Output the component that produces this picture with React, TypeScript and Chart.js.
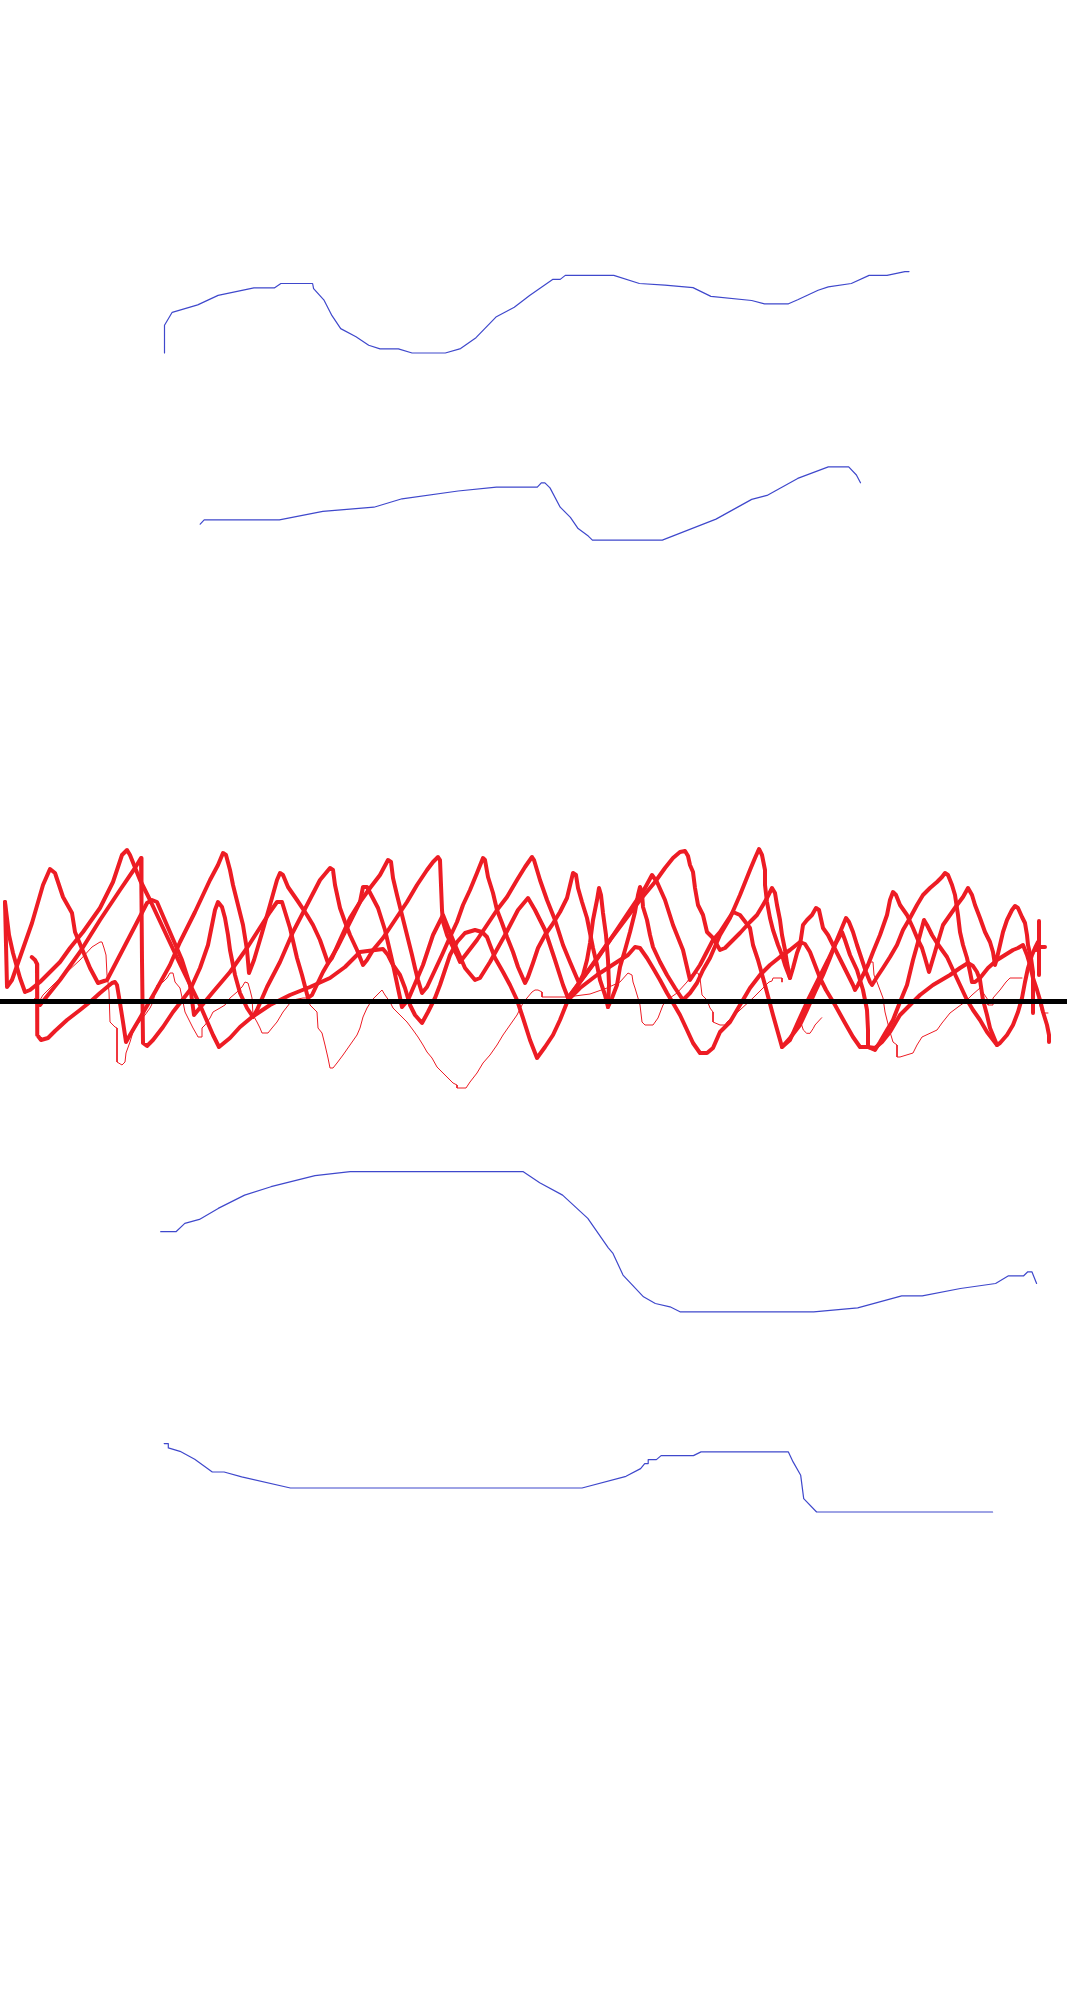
import React, { useEffect, useRef } from "react";
import { Chart, registerables } from "chart.js";

Chart.register(...registerables);

type Pt = [number, number];

// Blue traces (upper and lower)
const blueTop1: Pt[] = [[164.5,353],[164.5,325.2],[172.2,312.3],[197.7,304.9],[218.1,295.4],[253.9,287.9],[274.3,287.9],[280.9,283.5],[312.6,283.5],[313.6,288.6],[323.8,299.8],[332,315.7],[340.7,328.6],[356,336.7],[368.7,345.2],[380,348.9],[398.4,348.9],[412.1,353],[445.3,353],[460.6,348.6],[476,337.7],[496.4,316.7],[514.3,307.2],[529.6,295.4],[552.6,279.4],[560.2,279.4],[565.3,275.4],[613.8,275.4],[639.4,283.5],[664.9,285.2],[693,287.6],[710.9,296.4],[751.7,300.5],[764.5,303.8],[788.5,303.8],[797.7,299.8],[818.1,290.3],[828.3,286.9],[851.3,283.5],[869.1,275.4],[887,275.4],[904.9,271.6],[909,271.6]];
const blueTop2: Pt[] = [[200.2,524.2],[204.2,519.8],[279.4,519.8],[322.8,511.3],[373.9,507.2],[402,498.8],[458.1,491],[496.4,487.2],[537.3,487.2],[541.3,482.8],[544.9,482.8],[550,487.9],[560.2,507.2],[570.4,517.4],[578.1,528.6],[588.3,536.1],[592.4,540.1],[662.3,540.1],[716,519.1],[751.7,499.4],[767,495.4],[797.7,478.4],[828.3,466.9],[848.7,466.9],[856.4,475],[860.5,482.8]];
const blueBottom1: Pt[] = [[160.7,1231.7],[176,1231.7],[184.8,1223.4],[199.4,1219.4],[218.2,1208.4],[244.6,1195.1],[271,1186.7],[315,1175.7],[350.2,1171.7],[523.3,1171.7],[539.7,1182.7],[562.6,1195.1],[587.8,1218.4],[608.3,1247.8],[613,1253.4],[623,1275.1],[643.5,1296.8],[655.3,1303.5],[670,1306.8],[680,1311.8],[813.7,1311.8],[857.7,1307.8],[901.7,1295.8],[922.3,1295.8],[960.4,1288.5],[995.6,1283.5],[1008.5,1275.8],[1023.7,1275.8],[1027.8,1271.8],[1031.9,1271.8],[1036.6,1283.5]];
const blueBottom2: Pt[] = [[164.2,1443.6],[168.3,1443.6],[168.3,1447.9],[180,1451.3],[194.7,1459.3],[212.3,1472],[224.1,1472],[241.7,1476.9],[290.4,1488],[582,1488],[626,1476.3],[640.6,1468.6],[644.7,1463.6],[648.2,1463.6],[648.2,1459.6],[656.4,1459.6],[661.1,1455.6],[693.4,1455.6],[701,1451.9],[788.4,1451.9],[793.1,1461.9],[800.7,1475.3],[803.7,1498.6],[816.6,1512],[992.6,1512]];

// Thick red traces
const red1: Pt[] = [[5,902],[7,987],[12,980],[32,923],[43,885],[50,869],[55,873],[63,897],[72,913],[75,932],[90,968],[98,983],[107,980],[133,930],[147,903],[152,900],[157,902],[163,916],[182,960],[190,985],[194,1015],[213,992],[230,972],[247,948],[270,912],[277,902],[282,902],[290,928],[297,958],[302,975],[308,998],[312,995],[323,972],[337,948],[350,922],[360,902],[363,887],[367,887],[378,908],[385,930],[392,960],[402,1007],[408,1000],[423,965],[433,935],[443,915],[447,925],[455,945],[465,968],[475,980],[480,978],[490,962],[505,935],[518,910],[528,898],[535,910],[545,930],[555,960],[563,985],[568,998],[590,968],[610,940],[630,910],[645,888],[652,875],[657,882],[665,900],[673,925],[683,950],[690,980],[700,965],[713,940],[720,932],[733,912],[740,915],[750,928],[753,945],[758,960],[765,985],[773,1015],[782,1047],[790,1040],[798,1022],[808,1000],[818,980],[828,960],[836,943],[842,932],[845,940],[850,955],[857,970],[863,990],[867,1010],[868,1030],[868,1047],[875,1050],[880,1042],[887,1030],[893,1020],[900,1002],[907,985],[913,960],[920,935],[924,920],[927,925],[932,935],[937,943],[947,957],[953,970],[960,985],[967,1000],[973,1010],[980,1020],[987,1032],[997,1045],[1000,1043],[1007,1035],[1013,1025],[1018,1012],[1022,998],[1025,982],[1028,968],[1032,955],[1035,948],[1038,942]];
const red2: Pt[] = [[5,902],[9,935],[13,953],[20,978],[25,992],[30,990],[40,982],[50,972],[60,962],[70,948],[83,932],[100,908],[113,882],[122,855],[127,850],[130,855],[140,880],[150,900],[165,932],[180,964],[200,1005],[213,1035],[219,1047],[230,1038],[240,1027],[252,1017],[270,1005],[290,995],[310,987],[330,978],[345,967],[360,952],[383,949],[388,955],[393,965],[400,975],[405,988],[410,1005],[415,1015],[422,1023],[428,1012],[435,998],[440,985],[445,970],[450,955],[457,942],[465,933],[475,930],[482,932],[487,937],[490,945],[495,958],[503,972],[510,985],[517,1000],[523,1018],[530,1040],[537,1058],[545,1047],[553,1035],[560,1020],[568,1000],[580,988],[597,975],[617,962],[628,955],[635,947],[640,948],[647,958],[653,968],[660,980],[667,993],[673,1003],[680,1015],[687,1030],[693,1043],[700,1053],[707,1053],[713,1048],[720,1032],[730,1022],[740,1005],[750,988],[760,975],[770,965],[780,957],[790,950],[800,942],[805,944],[810,952],[815,965],[820,978],[826,990],[835,1005],[845,1023],[853,1037],[860,1047],[868,1047],[875,1048],[882,1042],[890,1032],[900,1015],[910,1005],[920,995],[933,985],[950,975],[960,968],[968,963],[973,966],[977,972],[980,980],[983,1000],[987,1015],[990,1028],[997,1045]];
const red3: Pt[] = [[31.7,957],[35,960],[37,964],[37,1000],[37.5,1035],[41,1040],[48,1038],[55,1031],[67,1020],[80,1010],[90,1002],[100,993],[112,983],[115,982],[117,985],[120,1003],[123,1022],[126,1042],[130,1035],[140,1018],[155,992],[170,965],[180,942],[195,912],[210,880],[218,865],[223,853],[226,855],[230,870],[233,885],[238,905],[243,925],[247,950],[249,973],[254,960],[262,933],[270,905],[277,880],[280,873],[283,875],[288,887],[297,900],[307,915],[313,925],[320,940],[328,963],[332,958],[340,940],[350,918],[360,902],[370,888],[380,875],[388,860],[391,862],[393,878],[397,895],[402,915],[407,935],[412,955],[415,968],[418,980],[422,993],[427,987],[435,970],[442,955],[450,937],[457,922],[463,905],[470,890],[477,873],[483,858],[485,860],[488,877],[493,893],[497,910],[502,923],[507,937],[513,952],[518,967],[525,983],[528,977],[533,963],[538,948],[545,935],[552,925],[560,912],[567,898],[573,873],[576,875],[578,888],[582,902],[587,918],[590,933],[593,948],[597,965],[600,980],[605,995],[608,1007],[612,998],[617,985],[620,967],[625,950],[630,932],[635,912],[638,895],[640,887],[642,893],[643,907],[647,920],[650,935],[653,947],[660,962],[667,975],[675,988],[683,1000],[690,993],[697,983],[703,970],[710,958],[720,935],[730,918],[740,895],[750,870],[755,858],[759,849],[762,855],[765,870],[765,885],[767,902],[770,918],[773,930],[778,945],[782,955],[785,965],[790,978],[793,968],[797,953],[800,945],[803,925],[807,920],[812,915],[816,908],[819,910],[823,928],[828,935],[833,945],[838,955],[843,965],[848,975],[853,985],[855,990],[858,985],[863,975],[868,965],[873,952],[880,935],[887,915],[890,900],[893,892],[896,895],[900,905],[907,915],[913,928],[918,940],[922,948],[925,958],[929,972],[932,962],[935,952],[937,945],[940,935],[943,925],[950,915],[957,905],[963,897],[968,888],[972,895],[975,905],[980,918],[985,932],[990,942],[993,952],[995,965],[997,958],[1000,945],[1003,932],[1007,920],[1012,910],[1015,906],[1018,908],[1022,917],[1025,923],[1027,935],[1028,945],[1031,958],[1033,972],[1033,985],[1033,1013]];
const red4: Pt[] = [[40,1005],[60,980],[80,952],[100,920],[120,890],[135,868],[141,858],[141.5,900],[142,960],[143,1043],[147,1046],[153,1040],[163,1027],[173,1012],[180,1003],[190,990],[200,968],[208,945],[212,925],[215,910],[218,902],[222,907],[225,918],[228,935],[230,950],[235,975],[240,993],[247,1008],[253,1017],[257,1010],[267,987],[280,962],[293,932],[307,905],[320,880],[330,868],[333,870],[335,885],[340,908],[345,922],[350,935],[357,950],[363,965],[367,960],[373,950],[383,938],[395,920],[407,902],[417,885],[427,870],[433,862],[438,857],[440,860],[441,885],[442,910],[443,922],[447,935],[452,945],[457,955],[460,962],[467,953],[477,940],[487,925],[497,910],[507,897],[517,880],[525,867],[532,857],[534,860],[537,870],[540,880],[547,900],[555,920],[563,945],[570,962],[579,983],[583,975],[587,960],[590,943],[593,920],[597,900],[599,888],[601,895],[603,913],[606,935],[608,960],[609,985],[608,1007]];
const red5: Pt[] = [[568,998],[580,982],[595,962],[610,940],[625,920],[640,900],[655,882],[665,868],[673,858],[680,852],[685,851],[688,856],[690,865],[693,872],[695,888],[698,905],[703,915],[707,932],[713,938],[720,950],[725,948],[733,940],[740,933],[750,922],[757,915],[763,905],[767,898],[772,888],[775,893],[777,905],[780,920],[782,935],[785,950],[787,963],[790,978]];
const red6: Pt[] = [[782,1047],[790,1038],[800,1025],[807,1010],[815,992],[823,975],[830,958],[836,942],[841,930],[846,918],[849,922],[853,932],[857,945],[862,960],[866,972],[870,982],[872,985],[877,977],[883,968],[890,957],[897,945],[903,930],[910,918],[917,905],[923,895],[930,888],[937,882],[942,877],[945,873],[948,875],[952,885],[955,895],[958,915],[960,932],[963,945],[967,958],[970,972],[972,982],[975,982],[980,978],[988,968],[997,960],[1005,955],[1013,950],[1018,948],[1023,945],[1027,955],[1030,965],[1033,978],[1037,990],[1040,1000],[1043,1012],[1047,1025],[1049,1035],[1049,1042]];
const red7: Pt[] = [[1039,921],[1039,975]];
const red8: Pt[] = [[1036,950],[1040,947],[1045,947]];

// Thin red traces
const thinA: Pt[] = [[33,1003],[35,998],[37,1005],[43,995],[53,985],[67,972],[80,960],[92,947],[100,942],[102,942],[104,948],[106,955],[107,975],[108,982],[109,992],[110,1022],[115,1027],[117,1028],[117,1062],[122,1065],[125,1062],[126,1053],[130,1042],[133,1032],[137,1025],[145,1015],[150,1008],[153,1002],[157,985],[163,982],[167,978],[170,973],[173,973],[175,982],[180,988],[183,1002],[185,1012],[190,1022],[193,1028],[197,1035],[198,1037],[202,1037],[202,1028],[205,1025],[210,1018],[213,1012],[220,1008],[225,1005],[230,998],[237,992],[242,987],[245,982],[248,983],[250,990],[252,998],[253,1015],[257,1022],[260,1028],[262,1033],[268,1033],[272,1028],[277,1022],[283,1012],[290,1003],[293,1000],[303,998],[308,998],[310,1005],[317,1012],[318,1028],[322,1033],[325,1045],[328,1058],[330,1068],[333,1068],[337,1063],[343,1055],[350,1045],[357,1035],[360,1028],[363,1017],[367,1008],[372,1000],[377,995],[382,990],[385,995],[390,1002],[393,1008],[400,1015],[407,1022],[413,1030],[418,1037],[423,1045],[427,1052],[432,1058],[437,1067],[443,1073],[450,1080],[453,1083],[457,1085],[457,1088],[466,1088],[470,1082],[477,1073],[483,1063],[490,1055],[497,1045],[503,1035],[510,1025],[517,1015],[523,1003],[527,998],[532,992],[535,990],[538,990],[542,992],[542,997],[567,997],[590,994],[607,988],[620,982],[628,973],[632,975],[633,982],[635,988],[638,998],[640,1005],[642,1022],[645,1025],[653,1025],[658,1018],[663,1005],[667,1000],[677,993],[687,982],[693,973],[698,973],[700,978],[702,995],[707,1000],[710,1008],[713,1012],[713,1022],[720,1025],[725,1025],[727,1022],[740,1010],[753,998],[763,988],[769,982],[772,981],[773,978],[782,978],[782,982]];
const thinB: Pt[] = [[801.7,1025],[803.3,1030],[806.7,1033.3],[810,1033.3],[813.3,1028.3],[815,1025],[821.7,1017.7]];
const thinC: Pt[] = [[868,962],[873,962],[874,975],[877,982],[883,998],[885,1012],[890,1032],[893,1042],[897,1045],[897,1057],[900,1057],[913,1053],[917,1045],[922,1037],[937,1030],[942,1023],[950,1013],[958,1007],[965,1002],[972,995],[980,988],[988,1000],[988,1005],[993,1005],[993,998],[1000,990],[1006,982],[1010,978],[1022,978]];
const thinD: Pt[] = [[1038,998],[1042,1013],[1048,1013]];

// Black baseline
const baseline: Pt[] = [[0,1001.5],[1067,1001.5]];

const BLUE = "#3F48CC";
const RED = "#ED1C24";

const toXY = (pts: Pt[]) => pts.map(([x, y]) => ({ x, y }));

export default function App() {
  const ref = useRef<HTMLCanvasElement | null>(null);
  useEffect(() => {
    if (!ref.current) return;
    const line = (pts: Pt[], color: string, width: number, order: number) => ({
      data: toXY(pts),
      showLine: true,
      borderColor: color,
      backgroundColor: color,
      borderWidth: width,
      pointRadius: 0,
      pointHoverRadius: 0,
      fill: false,
      tension: 0,
      borderJoinStyle: "round" as const,
      borderCapStyle: "round" as const,
      order,
    });
    const datasets: any[] = [
      { ...line(baseline, "#000000", 5, 0), borderCapStyle: "butt" },
      line(blueTop1, BLUE, 1.2, 3),
      line(blueTop2, BLUE, 1.2, 3),
      line(blueBottom1, BLUE, 1.2, 3),
      line(blueBottom2, BLUE, 1.2, 3),
      line(thinA, RED, 1, 2),
      line(thinB, RED, 1, 2),
      line(thinC, RED, 1, 2),
      line(thinD, RED, 1, 2),
      line(red1, RED, 4, 1),
      line(red2, RED, 4, 1),
      line(red3, RED, 4, 1),
      line(red4, RED, 4, 1),
      line(red5, RED, 4, 1),
      line(red6, RED, 4, 1),
      line(red7, RED, 4, 1),
      line(red8, RED, 4, 1),
    ];
    const chart = new Chart(ref.current, {
      type: "scatter",
      data: { datasets },
      options: {
        animation: false,
        responsive: false,
        maintainAspectRatio: false,
        layout: { padding: 0 },
        plugins: { legend: { display: false }, tooltip: { enabled: false } },
        events: [],
        scales: {
          x: { type: "linear", min: 0, max: 1080, display: false },
          y: { type: "linear", min: 0, max: 2000, reverse: true, display: false },
        },
      },
    });
    return () => chart.destroy();
  }, []);
  return (
    <div style={{ position: "absolute", left: 0, top: 0, width: 1080, height: 2000, background: "#ffffff" }}>
      <canvas ref={ref} width={1080} height={2000} style={{ display: "block", width: 1080, height: 2000 }} />
    </div>
  );
}
